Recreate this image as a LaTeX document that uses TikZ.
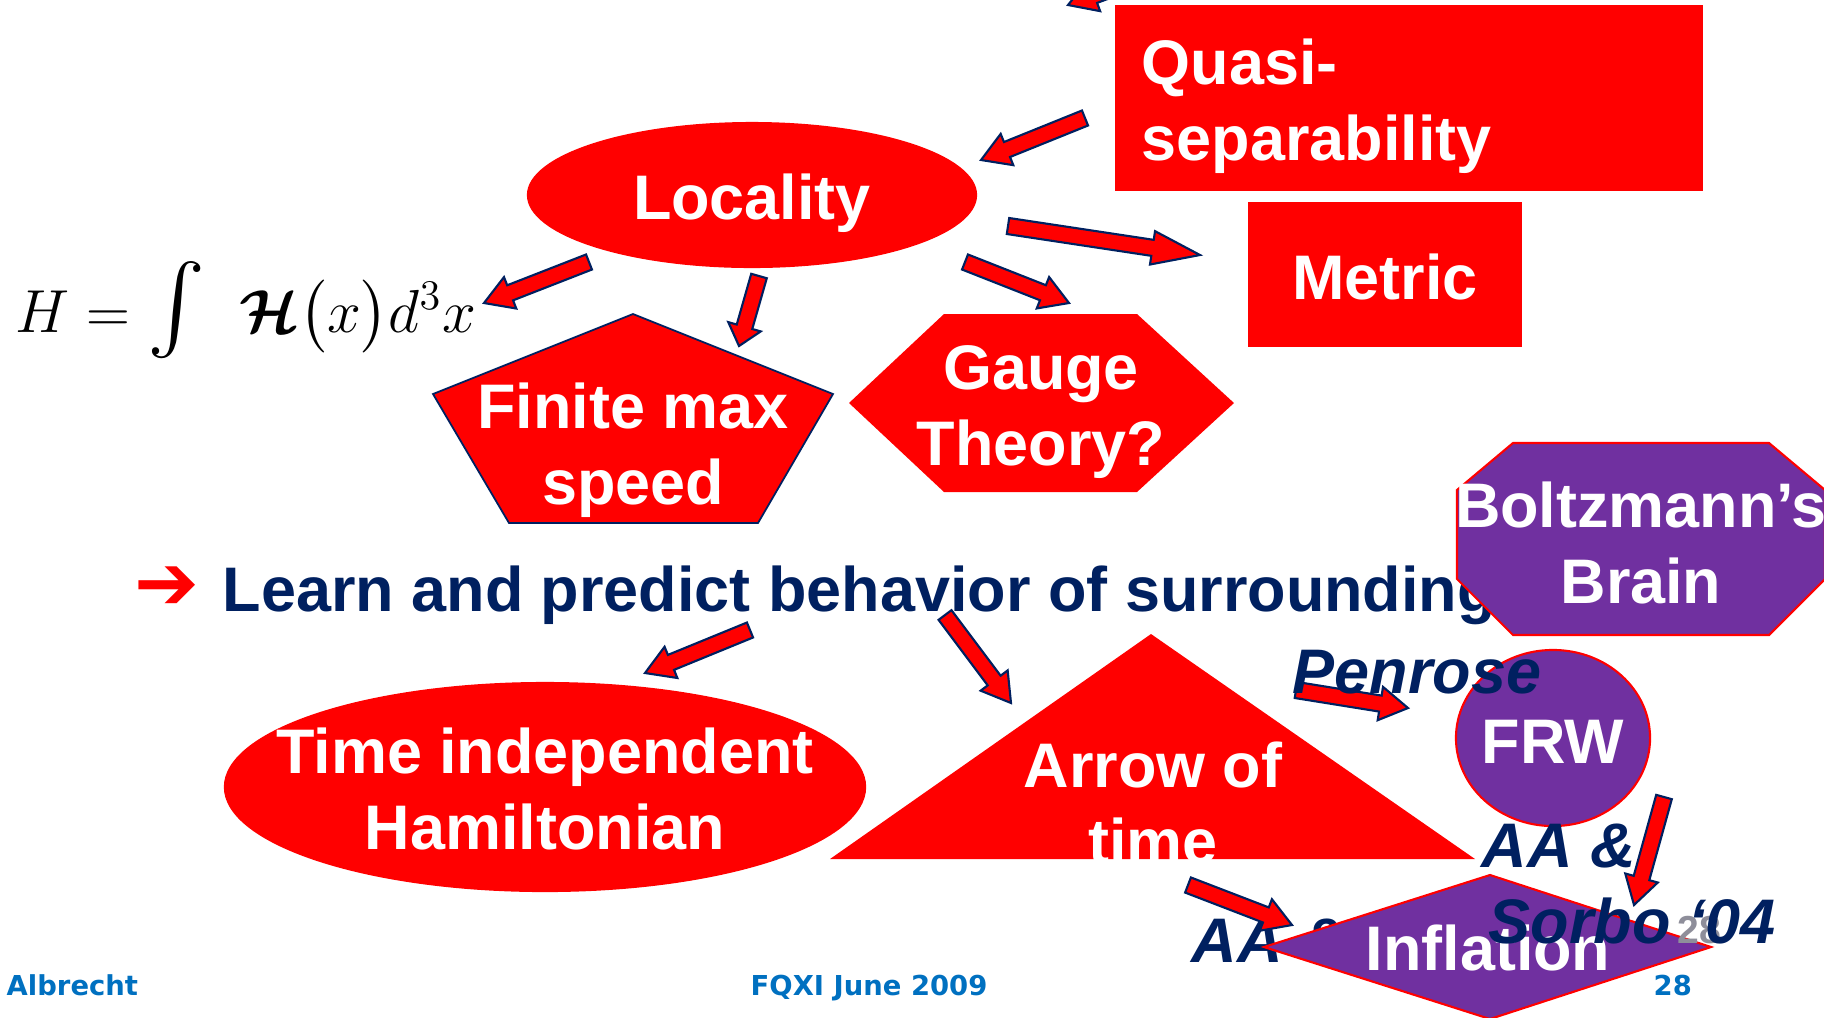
\documentclass[tikz,border=0pt]{standalone}
\usepackage{amsmath}
\usepackage{fontspec}
\setmainfont{Liberation Sans}
\newfontfamily\dejavu{DejaVu Sans}
\usetikzlibrary{calc}

\definecolor{slred}{HTML}{FF0000}
\definecolor{slpurple}{HTML}{7030A0}
\definecolor{slnavy}{HTML}{002060}
\definecolor{slblue}{HTML}{0070C0}
\definecolor{slgray}{HTML}{8E8E9A}

\tikzset{
  lbl/.style={font=\bfseries\fontsize{17.9}{21.6}\selectfont, text=white, inner sep=0pt, align=center, anchor=base},
  cite/.style={font=\bfseries\itshape\fontsize{17.9}{21.4}\selectfont, text=slnavy, inner sep=0pt, align=left, anchor=base west},
  foot/.style={font=\dejavu\bfseries\fontsize{7.8}{9}\selectfont, text=slblue, inner sep=0pt, anchor=base west},
  redfill/.style={fill=slred},
  purpfill/.style={fill=slpurple, draw=slred, line width=0.6pt},
  barrow/.style={fill=slred, draw=slnavy, line width=0.6pt, line join=miter},
}

% block arrow from tail #2 to tip #3, head length #1 (px)
\newcommand{\blockarr}[3][28]{%
  \filldraw[barrow] let \p1=(#2), \p2=(#3),
      \n1={atan2(\y2-\y1,\x2-\x1)},
      \n2={veclen(\x2-\x1,\y2-\y1)-#1*0.2845} in
    ($(\p1)+(\n1+90:2.3pt)$) --
    ($(\p1)+(\n1:\n2)+(\n1+90:2.3pt)$) --
    ($(\p1)+(\n1:\n2)+(\n1+90:4.8pt)$) --
    (\p2) --
    ($(\p1)+(\n1:\n2)+(\n1-90:4.8pt)$) --
    ($(\p1)+(\n1:\n2)+(\n1-90:2.3pt)$) --
    ($(\p1)+(\n1-90:2.3pt)$) -- cycle;}

\begin{document}
\begin{tikzpicture}[x=0.01cm, y=-0.01cm]
  \useasboundingbox (0,0) rectangle (1824,1017);
  \clip (0,0) rectangle (1824,1017);

  % upper group (multi-line labels sit on their last baseline)
  \fill[redfill] (1115,5) rectangle (1703,191);
  \node[lbl, anchor=base west, align=left] (quasi) at (1141,160) {Quasi-\\separability};
  \fill[redfill] (752,195) ellipse [x radius=2.25cm, y radius=0.73cm];
  \node[lbl] (loc) at (752,219) {Locality};
  \fill[redfill] (1248,202) rectangle (1522,347);
  \node[lbl] (metric) at (1385,299) {Metric};
  \node[font=\fontsize{18.2}{22}\selectfont, anchor=base west, inner sep=0pt] (ham) at (15,332)
    {$H = \mbox{\fontsize{26}{30}\selectfont$\int$}\;\;\boldsymbol{\mathcal{H}}\big(x\big)d^3x$};
  \filldraw[redfill, draw=slnavy, line width=0.5pt] (633,314) -- (833,394) -- (758,523) -- (509,523) -- (433,394) -- cycle;
  \node[lbl] (speed) at (633,504) {Finite max\\speed};
  \fill[redfill] (849,403) -- (944,314) -- (1137,314) -- (1234,403) -- (1137,492) -- (944,492) -- cycle;
  \node[lbl] (gauge) at (1041,465) {Gauge\\Theory?};

  % lower group
  \node[font=\dejavu\bfseries\fontsize{22}{26}\selectfont, text=slred, anchor=base west, inner sep=0pt] (bullet) at (134,609) {➔};
  \node[font=\bfseries\fontsize{17.9}{21.6}\selectfont, text=slnavy, anchor=base west, inner sep=0pt] (learn) at (222,611)
    {Learn and predict behavior of surroundings};
  \filldraw[purpfill] (1513,443) -- (1769,443) -- (1825,490) -- (1825,579) -- (1769,635) -- (1513,635) -- (1457,579) -- (1457,490) -- cycle;
  \node[lbl] (brain) at (1641,603) {Boltzmann’s\\Brain};
  \fill[redfill] (545,787) ellipse [x radius=3.21cm, y radius=1.05cm];
  \node[lbl] (tih) at (545,849) {Time independent\\Hamiltonian};
  \fill[redfill] (1151,634) -- (1475,859) -- (830,859) -- cycle;
  \node[lbl] (aot) at (1153,863) {Arrow of\\time};
  \filldraw[purpfill] (1553,738) ellipse [x radius=0.97cm, y radius=0.88cm];
  \node[lbl] (frw) at (1553,763) {FRW};
  \node[cite] (aaleft) at (1191,962) {AA \&};
  \filldraw[purpfill] (1264,947) -- (1490,875) -- (1711,947) -- (1490,1019) -- cycle;
  \node[lbl] (infl) at (1488,970) {Inflation};
  \node[font=\bfseries\fontsize{11.1}{13}\selectfont, text=slgray, anchor=base west, inner sep=0pt] (ghost) at (1677,943) {28};
  \node[cite] (aas) at (1481,943) {AA \&\\\hspace*{2pt}Sorbo ‘04};

  % block arrows
  \coordinate (topT) at (1190,-40);  \coordinate (topH) at (1068,5);
  \coordinate (qlT) at (1085,118);   \coordinate (qlH) at (981,160);
  \coordinate (lhT) at (589,262);    \coordinate (lhH) at (484,303);
  \coordinate (lsT) at (759,276);    \coordinate (lsH) at (739,346);
  \coordinate (lgT) at (965,262);    \coordinate (lgH) at (1069,303);
  \coordinate (lmT) at (1008,226);   \coordinate (lmH) at (1200,255);
  \coordinate (ltT) at (750,630);    \coordinate (ltH) at (645,673);
  \coordinate (laT) at (945,615);    \coordinate (laH) at (1011,703);
  \coordinate (afT) at (1296,690);   \coordinate (afH) at (1408,708);
  \coordinate (aiT) at (1188,885);   \coordinate (aiH) at (1292,925);
  \coordinate (fiT) at (1664,797);   \coordinate (fiH) at (1634,905);
  \blockarr{topT}{topH}
  \blockarr{qlT}{qlH}
  \blockarr{lhT}{lhH}
  \blockarr[20]{lsT}{lsH}
  \blockarr{lgT}{lgH}
  \blockarr[48]{lmT}{lmH}
  \blockarr{ltT}{ltH}
  \blockarr{laT}{laH}
  \blockarr{afT}{afH}
  \blockarr{aiT}{aiH}
  \blockarr{fiT}{fiH}
  \node[cite] (penrose) at (1292,693) {Penrose};

  % footer
  \node[foot] (author) at (6,995) {Albrecht};
  \node[foot] (talk) at (750,995) {FQXI June 2009};
  \node[foot] (page) at (1653,995) {28};
\end{tikzpicture}
\end{document}
